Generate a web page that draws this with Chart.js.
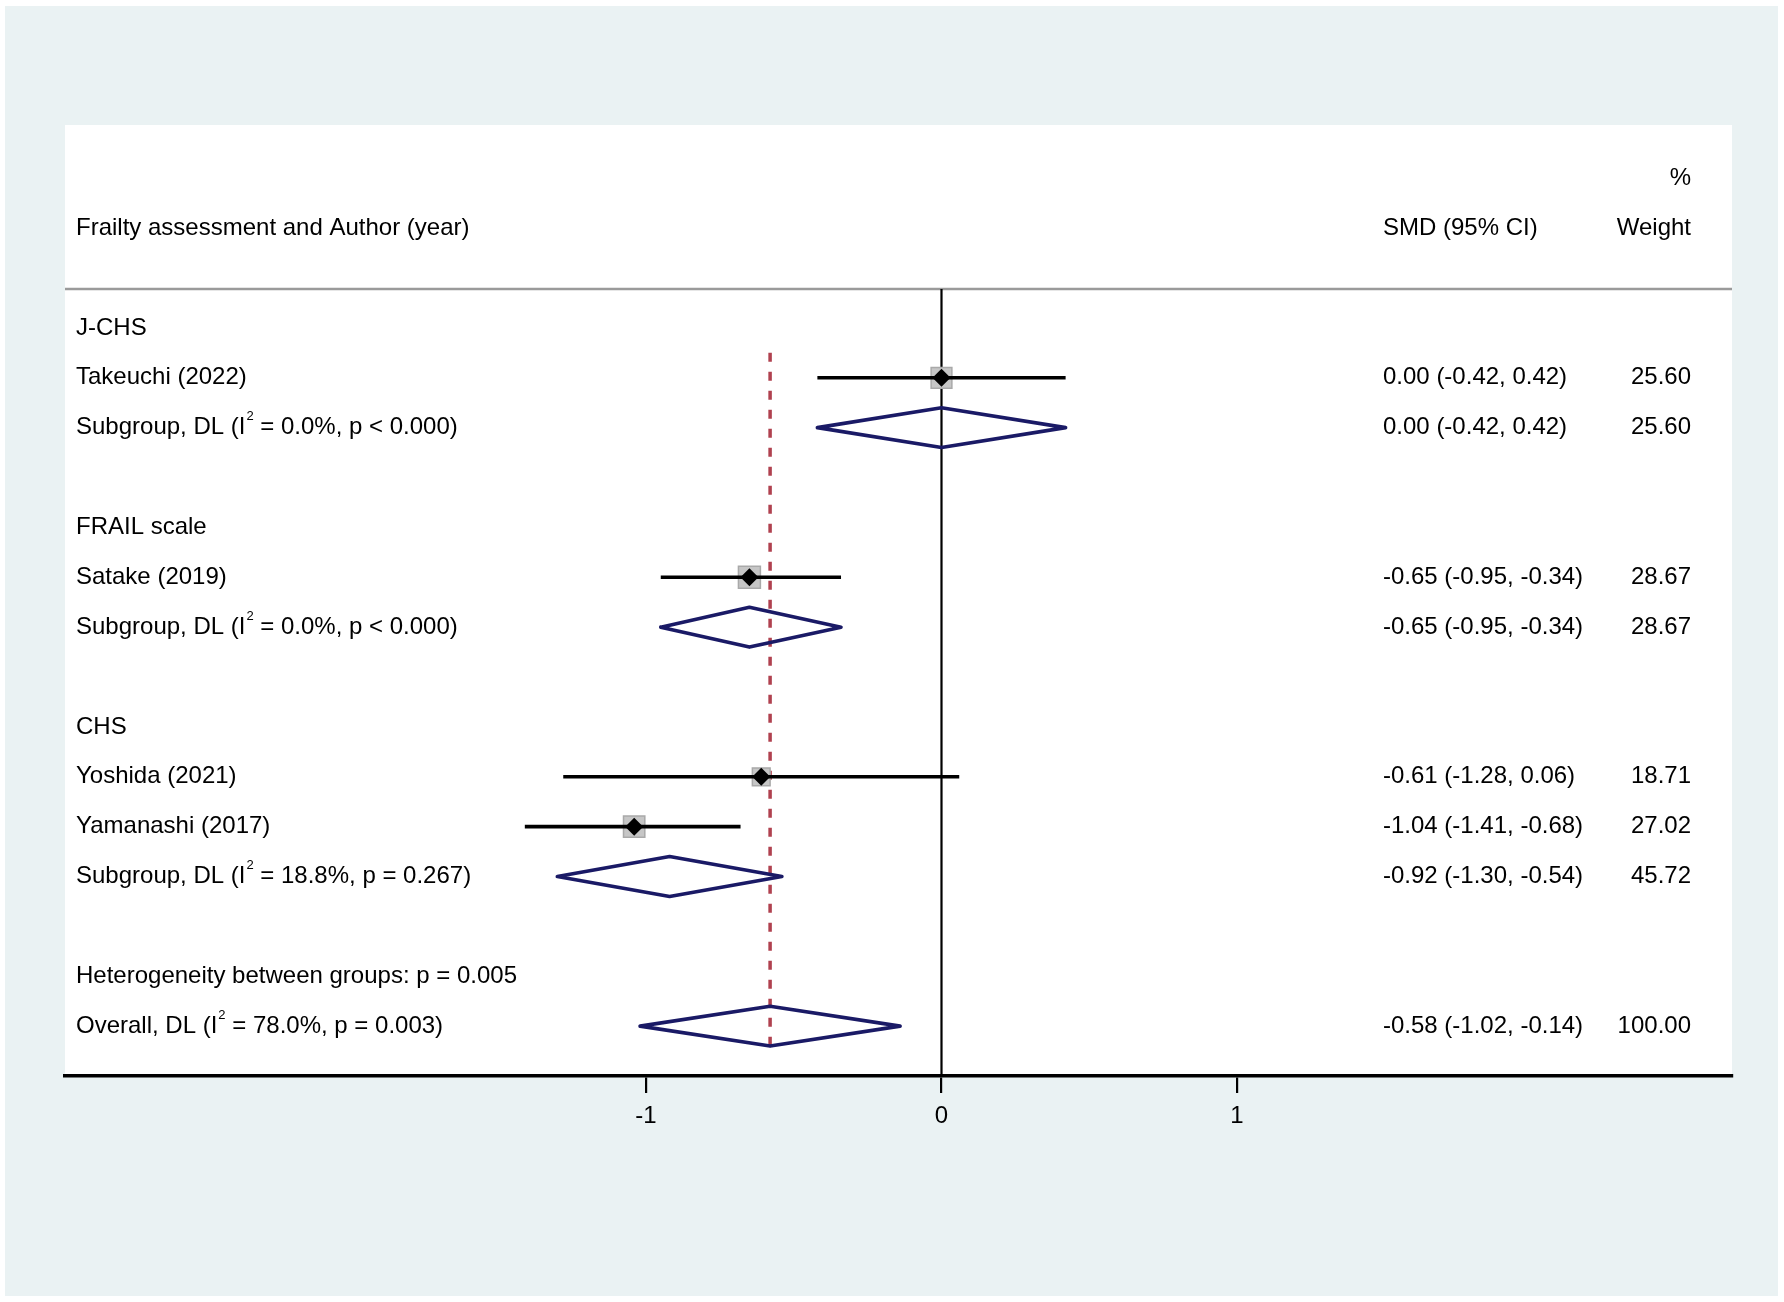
<!DOCTYPE html>
<html>
<head>
<meta charset="utf-8">
<script src="https://cdn.jsdelivr.net/npm/chart.js@4.4.1/dist/chart.umd.min.js"></script>
<style>
  html, body { margin: 0; padding: 0; background: #fff; }
  canvas { display: block; }
</style>
</head>
<body>
<canvas id="forestChart" width="1784" height="1302"></canvas>
<script>
// row 0 is the top line of the table, rows go down
const groupNames = ['J-CHS', 'FRAIL scale', 'CHS'];
const groupRows = [0, 4, 8];

const studyNames = ['Takeuchi (2022)', 'Satake (2019)', 'Yoshida (2021)', 'Yamanashi (2017)'];
const studyRows = [1, 5, 9, 10];
const studySmd = [0.00, -0.65, -0.61, -1.04];
const studyLow = [-0.42, -0.95, -1.28, -1.41];
const studyHigh = [0.42, -0.34, 0.06, -0.68];
const studyWeight = [25.60, 28.67, 18.71, 27.02];

const pooledNames = [
    'Subgroup, DL (I² = 0.0%, p < 0.000)',
    'Subgroup, DL (I² = 0.0%, p < 0.000)',
    'Subgroup, DL (I² = 18.8%, p = 0.267)',
    'Overall, DL (I² = 78.0%, p = 0.003)'
];
const pooledRows = [2, 6, 11, 14];
const pooledSmd = [0.00, -0.65, -0.92, -0.58];
const pooledLow = [-0.42, -0.95, -1.30, -1.02];
const pooledHigh = [0.42, -0.34, -0.54, -0.14];
const pooledWeight = [25.60, 28.67, 45.72, 100.00];

const hetText = 'Heterogeneity between groups: p = 0.005';
const hetRow = 13;

const xTicks = [-1, 0, 1];
const overallSmd = pooledSmd[pooledSmd.length - 1];

const FONT = '"Liberation Sans", Arial, sans-serif';
const xMin = -2.966, xMax = 2.675;
const yMin = -0.78, yMax = 15.0;
const diamondHalf = 0.4;

function fmt(v) {
    return (Math.abs(v) < 0.005 ? 0 : v).toFixed(2);
}

function ciText(s, l, h) {
    return fmt(s) + ' (' + fmt(l) + ', ' + fmt(h) + ')';
}

function boxRadius(w) {
    // box area follows the weight
    return 4.1 * Math.sqrt(w) / Math.SQRT2;
}

const datasets = [];

// black diamonds of the studies
datasets.push({
    data: studySmd.map((s, i) => ({ x: s, y: studyRows[i] })),
    pointStyle: 'rectRot',
    pointRadius: 9,
    backgroundColor: '#000',
    borderWidth: 0,
    showLine: false,
    order: 0
});

// confidence intervals
studySmd.forEach((s, i) => {
    datasets.push({
        data: [{ x: studyLow[i], y: studyRows[i] }, { x: studyHigh[i], y: studyRows[i] }],
        showLine: true,
        borderColor: '#000',
        borderWidth: 3.6,
        pointRadius: 0,
        order: 1
    });
});

// weight boxes
datasets.push({
    data: studySmd.map((s, i) => ({ x: s, y: studyRows[i] })),
    pointStyle: 'rect',
    pointRadius: studyWeight.map(boxRadius),
    backgroundColor: '#c6c6c6',
    borderColor: '#a9a9a9',
    borderWidth: 1.5,
    showLine: false,
    order: 3
});

// pooled diamonds
pooledSmd.forEach((s, i) => {
    const r = pooledRows[i];
    datasets.push({
        data: [
            { x: pooledLow[i], y: r },
            { x: s, y: r - diamondHalf },
            { x: pooledHigh[i], y: r },
            { x: s, y: r + diamondHalf },
            { x: pooledLow[i], y: r }
        ],
        showLine: true,
        borderColor: '#1a1a66',
        borderWidth: 3.6,
        borderJoinStyle: 'round',
        borderCapStyle: 'round',
        pointRadius: 0,
        fill: false,
        order: 2
    });
});

// overall effect line
datasets.push({
    data: [{ x: overallSmd, y: 0.5 }, { x: overallSmd, y: 14.5 }],
    showLine: true,
    borderColor: '#b0414f',
    borderWidth: 3.5,
    borderDash: [9, 10],
    pointRadius: 0,
    order: 4
});

// no effect line
datasets.push({
    data: [{ x: 0, y: yMin }, { x: 0, y: yMax }],
    showLine: true,
    borderColor: '#000',
    borderWidth: 2.2,
    pointRadius: 0,
    order: 5
});

const panelPlugin = {
    id: 'panel',
    beforeDraw(chart) {
        const ctx = chart.ctx;
        const area = chart.chartArea;
        ctx.save();
        ctx.fillStyle = '#ffffff';
        ctx.fillRect(0, 0, chart.width, chart.height);
        ctx.fillStyle = '#eaf2f3';
        ctx.fillRect(5, 6, chart.width - 11, chart.height - 12);
        ctx.fillStyle = '#ffffff';
        ctx.fillRect(area.left, 125, area.right - area.left, area.bottom - 125);
        ctx.strokeStyle = '#9a9a9a';
        ctx.lineWidth = 2.5;
        ctx.beginPath();
        ctx.moveTo(area.left, area.top);
        ctx.lineTo(area.right, area.top);
        ctx.stroke();
        ctx.restore();
    }
};

function drawLabel(ctx, text, x, y, align) {
    // draws text, "²" as a small raised 2
    const parts = text.split('²');
    const big = '24px ' + FONT;
    const small = '13px ' + FONT;
    let total = 0;
    parts.forEach((p, i) => {
        ctx.font = big;
        total += ctx.measureText(p).width;
        if (i < parts.length - 1) {
            ctx.font = small;
            total += ctx.measureText('2').width + 1;
        }
    });
    let cx = align === 'right' ? x - total : x;
    ctx.textAlign = 'left';
    parts.forEach((p, i) => {
        ctx.font = big;
        ctx.fillText(p, cx, y);
        cx += ctx.measureText(p).width;
        if (i < parts.length - 1) {
            ctx.font = small;
            ctx.fillText('2', cx + 1, y - 11);
            cx += ctx.measureText('2').width + 1;
        }
    });
}

const textPlugin = {
    id: 'tableText',
    afterDraw(chart) {
        const ctx = chart.ctx;
        const ys = chart.scales.y;
        const leftX = 76, ciX = 1383, wX = 1691;
        ctx.save();
        ctx.fillStyle = '#000';
        ctx.textBaseline = 'middle';

        drawLabel(ctx, '%', wX, ys.getPixelForValue(-3), 'right');
        drawLabel(ctx, 'Frailty assessment and Author (year)', leftX, ys.getPixelForValue(-2), 'left');
        drawLabel(ctx, 'SMD (95% CI)', ciX, ys.getPixelForValue(-2), 'left');
        drawLabel(ctx, 'Weight', wX, ys.getPixelForValue(-2), 'right');

        groupNames.forEach((g, i) => drawLabel(ctx, g, leftX, ys.getPixelForValue(groupRows[i]), 'left'));

        studyNames.forEach((n, i) => {
            const y = ys.getPixelForValue(studyRows[i]);
            drawLabel(ctx, n, leftX, y, 'left');
            drawLabel(ctx, ciText(studySmd[i], studyLow[i], studyHigh[i]), ciX, y, 'left');
            drawLabel(ctx, studyWeight[i].toFixed(2), wX, y, 'right');
        });

        pooledNames.forEach((n, i) => {
            const y = ys.getPixelForValue(pooledRows[i]);
            drawLabel(ctx, n, leftX, y, 'left');
            drawLabel(ctx, ciText(pooledSmd[i], pooledLow[i], pooledHigh[i]), ciX, y, 'left');
            drawLabel(ctx, pooledWeight[i].toFixed(2), wX, y, 'right');
        });

        drawLabel(ctx, hetText, leftX, ys.getPixelForValue(hetRow), 'left');
        ctx.restore();
    }
};

const ctx = document.getElementById('forestChart').getContext('2d');
new Chart(ctx, {
    type: 'scatter',
    data: { datasets: datasets },
    options: {
        responsive: false,
        animation: false,
        devicePixelRatio: 1,
        events: [],
        layout: { padding: { left: 65, right: 52, top: 289, bottom: 0 } },
        plugins: {
            legend: { display: false },
            tooltip: { enabled: false }
        },
        scales: {
            x: {
                type: 'linear',
                position: 'bottom',
                min: xMin,
                max: xMax,
                afterBuildTicks: (scale) => {
                    scale.ticks = xTicks.map(v => ({ value: v }));
                },
                afterFit: (scale) => {
                    scale.height = 226;
                },
                border: { display: true, color: '#000', width: 3.5 },
                grid: {
                    display: true,
                    drawOnChartArea: false,
                    drawTicks: true,
                    tickLength: 17,
                    color: '#000',
                    lineWidth: 2.2
                },
                ticks: {
                    color: '#000',
                    padding: 9,
                    maxRotation: 0,
                    font: { family: FONT, size: 24 }
                }
            },
            y: {
                type: 'linear',
                display: false,
                reverse: true,
                min: yMin,
                max: yMax
            }
        }
    },
    plugins: [panelPlugin, textPlugin]
});
</script>
</body>
</html>
